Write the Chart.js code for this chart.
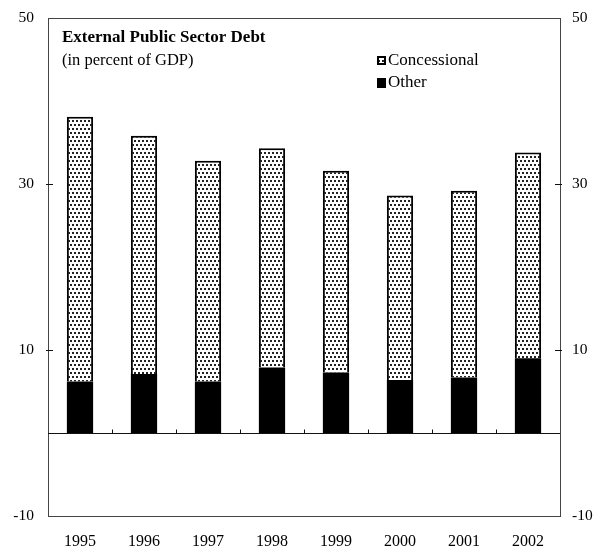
<!DOCTYPE html>
<html lang="en">
<head>
    <meta charset="UTF-8">
    <title>External Public Sector Debt</title>
    <script src="https://cdn.jsdelivr.net/npm/chart.js"></script>
    <style>
        body { margin: 0; background: #fff; }
        #wrap { width: 598px; height: 549px; }
    </style>
</head>
<body>
    <div id="wrap"><canvas id="debtChart" width="598" height="549"></canvas></div>
    <script>
        // Data (percent of GDP)
        const years = ['1995', '1996', '1997', '1998', '1999', '2000', '2001', '2002'];
        const other = [6.2, 7.1, 6.2, 7.9, 7.3, 6.4, 6.7, 9.0];
        const concessional = [31.9, 28.7, 26.6, 26.4, 24.3, 22.2, 22.5, 24.8];
        const yTicks = [-10, 10, 30, 50];

        const serif = '"Liberation Serif", "Times New Roman", serif';

        // dotted fill for the concessional part
        function makeDots() {
            const c = document.createElement('canvas');
            c.width = 8; c.height = 8;
            const g = c.getContext('2d');
            g.fillStyle = '#fff';
            g.fillRect(0, 0, 8, 8);
            g.fillStyle = '#222';
            g.fillRect(0, 0, 2, 2);
            g.fillRect(4, 0, 2, 2);
            g.fillRect(2, 4, 2, 2);
            g.fillRect(6, 4, 2, 2);
            return g.createPattern(c, 'repeat');
        }
        const dots = makeDots();

        // frame, zero line, tick marks, title and legend
        const decor = {
            id: 'decor',
            afterDatasetsDraw(chart) {
                const ctx = chart.ctx;
                const a = chart.chartArea;
                const x = chart.scales.x;
                const y = chart.scales.y;
                ctx.save();
                ctx.strokeStyle = '#444';
                ctx.lineWidth = 1;
                ctx.strokeRect(a.left + 0.5, a.top + 0.5, a.right - a.left, a.bottom - a.top);

                ctx.strokeStyle = '#111';
                const y0 = Math.round(y.getPixelForValue(0)) + 0.5;
                ctx.beginPath();
                ctx.moveTo(a.left, y0);
                ctx.lineTo(a.right, y0);
                // category separators on the zero line
                const step = x.getPixelForValue(1) - x.getPixelForValue(0);
                for (let i = 0; i < years.length - 1; i++) {
                    const px = Math.round(x.getPixelForValue(i) + step / 2) + 0.5;
                    ctx.moveTo(px, y0);
                    ctx.lineTo(px, y0 - 4);
                }
                // inner ticks on both value axes
                yTicks.slice(1, -1).forEach(v => {
                    const py = Math.round(y.getPixelForValue(v)) + 0.5;
                    ctx.moveTo(a.left - 2, py);
                    ctx.lineTo(a.left + 5, py);
                    ctx.moveTo(a.right + 2, py);
                    ctx.lineTo(a.right - 5, py);
                });
                ctx.stroke();

                // title
                ctx.fillStyle = '#000';
                ctx.textBaseline = 'middle';
                ctx.font = 'bold 17px ' + serif;
                ctx.fillText('External Public Sector Debt', a.left + 14, 38);
                ctx.font = '16.5px ' + serif;
                ctx.fillText('(in percent of GDP)', a.left + 14, 61);

                // legend
                const lx = 377;
                ctx.font = '17px ' + serif;
                ctx.fillStyle = dots;
                ctx.fillRect(lx, 56, 9, 9);
                ctx.strokeStyle = '#000';
                ctx.lineWidth = 2;
                ctx.strokeRect(lx + 1, 57, 7, 7);
                ctx.fillStyle = '#000';
                ctx.fillRect(lx, 78, 9, 10);
                ctx.fillText('Concessional', lx + 11, 61);
                ctx.fillText('Other', lx + 11, 83);
                ctx.restore();
            }
        };

        // fixed axis sizes so the plot box lands where the original has it
        function fitY(width) {
            return function (s) {
                s.width = width;
                s.paddingTop = 0;
                s.paddingBottom = 0;
            };
        }

        new Chart(document.getElementById('debtChart'), {
            type: 'bar',
            data: {
                labels: years,
                datasets: [
                    {
                        label: 'Other',
                        data: other,
                        backgroundColor: '#000',
                        borderWidth: 0,
                        barPercentage: 0.41,
                        categoryPercentage: 1
                    },
                    {
                        label: 'Concessional',
                        data: concessional,
                        backgroundColor: dots,
                        borderColor: '#000',
                        borderWidth: { top: 2, left: 2, right: 2, bottom: 0 },
                        borderSkipped: false,
                        barPercentage: 0.41,
                        categoryPercentage: 1
                    }
                ]
            },
            options: {
                responsive: false,
                animation: false,
                layout: { padding: { top: 18, left: 0, right: 0, bottom: 0 } },
                plugins: {
                    legend: { display: false },
                    tooltip: { enabled: false }
                },
                scales: {
                    x: {
                        stacked: true,
                        grid: { display: false, drawTicks: false },
                        border: { display: false },
                        ticks: { color: '#000', font: { family: serif, size: 16 }, padding: 16 },
                        afterFit(s) { s.height = 33; s.paddingLeft = 0; s.paddingRight = 0; }
                    },
                    y: {
                        stacked: true,
                        position: 'left',
                        min: -10,
                        max: 50,
                        afterBuildTicks(s) { s.ticks = yTicks.map(v => ({ value: v })); },
                        grid: { display: false, drawTicks: false },
                        border: { display: false },
                        ticks: { color: '#000', font: { family: serif, size: 15.5 }, padding: 14 },
                        afterFit: fitY(48)
                    },
                    y2: {
                        position: 'right',
                        min: -10,
                        max: 50,
                        afterBuildTicks(s) { s.ticks = yTicks.map(v => ({ value: v })); },
                        grid: { display: false, drawTicks: false },
                        border: { display: false },
                        ticks: { color: '#000', font: { family: serif, size: 15.5 }, padding: 12 },
                        afterFit: fitY(38)
                    }
                }
            },
            plugins: [decor]
        });
    </script>
</body>
</html>
